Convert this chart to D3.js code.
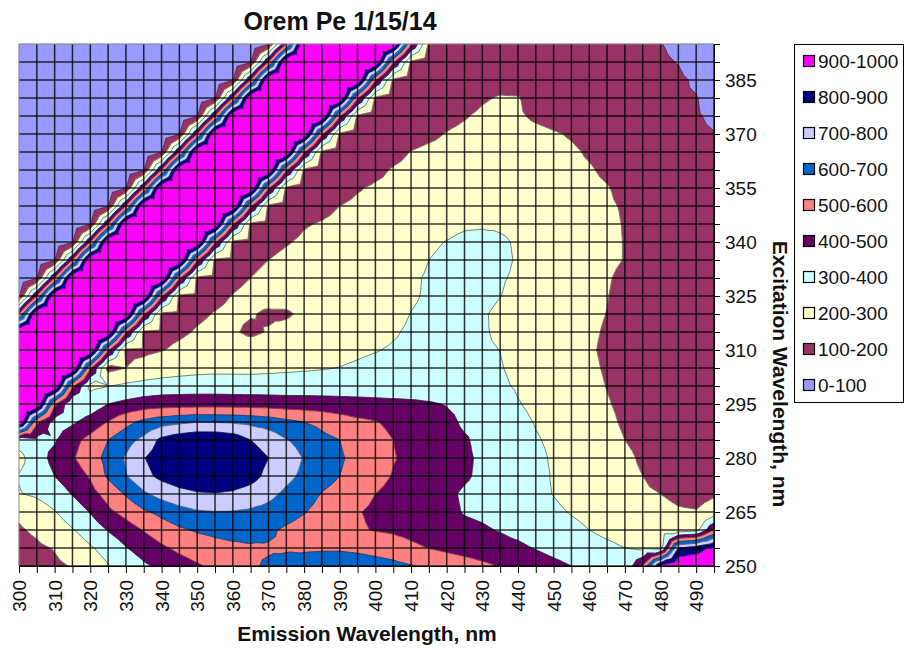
<!DOCTYPE html>
<html>
<head>
<meta charset="utf-8">
<script src="https://cdn.jsdelivr.net/npm/d3@7/dist/d3.min.js"></script>
<style>
html,body{margin:0;padding:0;background:#fff;}
svg{display:block;}
text{font-family:"Liberation Sans",Arial,sans-serif;fill:#111;}
</style>
</head>
<body>
<svg id="chart" width="905" height="650"></svg>
<script>
const chartTitle = "Orem Pe 1/15/14";
const xTitle = "Emission Wavelength, nm";
const yTitle = "Excitation Wavelength, nm";
const emission = [300,305,310,315,320,325,330,335,340,345,350,355,360,365,370,375,380,385,390,395,400,405,410,415,420,425,430,435,440,445,450,455,460,465,470,475,480,485,490,495];
const excitation = [250,255,260,265,270,275,280,285,290,295,300,305,310,315,320,325,330,335,340,345,350,355,360,365,370,375,380,385,390,395];
const xTickLabels = [300,310,320,330,340,350,360,370,380,390,400,410,420,430,440,450,460,470,480,490];
const yTickLabels = [250,265,280,295,310,325,340,355,370,385];
const bandLabels = ["0-100","100-200","200-300","300-400","400-500","500-600","600-700","700-800","800-900","900-1000"];
const bandLimits = [0,100,200,300,400,500,600,700,800,900,1000];
const bandColors = ["#9999ff","#993366","#ffffcc","#ccffff","#660066","#ff8080","#0066cc","#ccccff","#000080","#ff00ff"];

// intensity per excitation row, one value per emission column
const ex250=[130,150,185,205,250,295,340,385,420,460,490,520,555,590,610,630,645,655,655,650,640,625,605,585,565,545,520,495,475,450,425,400,375,345,320,510,920,1000,1000,1000];
const ex255=[165,185,205,240,290,335,395,440,485,520,545,565,580,590,592,590,585,588,588,580,565,550,520,498,478,460,445,430,418,395,370,350,335,318,300,285,270,800,850,930];
const ex260=[190,215,255,295,345,405,455,505,550,585,610,625,635,630,615,585,560,540,525,510,495,485,470,450,435,420,410,395,375,355,340,320,300,280,265,250,235,240,265,500];
const ex265=[215,250,295,345,405,480,530,585,625,665,690,697,695,685,670,640,605,570,535,505,485,465,450,435,420,395,385,370,355,340,315,295,280,265,250,238,225,210,205,240];
const ex270=[295,315,350,405,465,535,610,685,735,770,790,795,785,760,725,680,640,595,565,530,500,475,460,440,415,390,375,355,335,315,298,275,258,242,228,212,200,180,170,190];
const ex275=[305,340,400,450,510,615,695,770,825,855,870,875,865,835,775,725,680,640,600,565,530,495,470,450,430,410,385,365,345,320,295,270,255,235,218,200,175,155,145,150];
const ex280=[270,355,430,490,555,630,710,795,850,880,895,895,880,845,800,745,695,650,610,575,540,505,480,460,440,415,385,365,345,320,290,270,250,235,215,190,165,145,130,125];
const ex285=[340,370,390,470,530,600,665,725,825,865,885,885,860,800,760,705,670,625,600,560,530,500,470,450,435,410,375,355,340,307,285,265,248,225,200,180,155,135,120,115];
const ex290=[1000,520,360,385,440,505,570,625,660,680,697,695,690,675,655,625,600,575,545,520,505,480,460,445,425,385,375,355,325,295,275,255,235,215,190,170,150,130,115,105];
const ex295=[1000,1000,520,310,340,400,425,445,455,458,460,460,458,458,455,450,448,445,440,435,430,425,420,410,395,375,360,345,305,280,260,240,220,205,185,160,145,125,110,105];
const ex300=[1000,1000,1000,520,280,298,318,335,345,348,350,350,348,346,345,345,345,345,345,345,343,342,340,340,335,335,330,315,290,272,255,240,218,198,178,158,138,122,110,105];
const ex305=[1000,1000,1000,1000,520,170,200,225,245,260,270,275,275,275,280,285,290,295,302,315,330,335,335,335,340,335,325,305,280,260,245,230,212,193,175,155,135,120,110,105];
const ex310=[1000,1000,1000,1000,1000,520,190,185,197,212,225,235,240,240,245,250,255,262,270,282,295,310,320,320,325,320,310,299,275,255,240,225,207,190,175,155,135,120,110,105];
const ex315=[1000,1000,1000,1000,1000,1000,520,190,180,190,205,215,210,185,205,225,235,245,250,260,270,290,315,320,325,320,310,285,270,250,235,222,208,195,175,155,135,120,110,105];
const ex320=[500,1000,1000,1000,1000,1000,1000,520,190,175,190,203,212,205,190,190,215,225,235,245,255,270,302,315,320,320,310,280,265,250,235,222,210,199,178,155,135,120,110,105];
const ex325=[95,500,1000,1000,1000,1000,1000,1000,520,190,175,185,202,215,225,230,235,240,245,250,255,270,290,310,330,340,330,302,270,255,240,225,212,202,180,155,135,120,110,105];
const ex330=[25,95,500,1000,1000,1000,1000,1000,1000,520,190,170,185,200,215,225,235,240,245,250,255,265,285,310,335,350,335,310,285,265,250,235,220,206,185,160,140,120,110,105];
const ex335=[25,25,95,500,1000,1000,1000,1000,1000,1000,520,190,175,185,200,215,225,235,240,245,250,255,270,300,330,350,345,325,290,265,250,238,225,212,198,175,150,130,115,105];
const ex340=[25,25,25,95,500,1000,1000,1000,1000,1000,1000,520,190,170,180,195,210,220,230,235,240,245,250,275,305,340,350,320,285,262,248,235,225,212,198,175,150,130,115,105];
const ex345=[25,25,25,25,95,500,1000,1000,1000,1000,1000,1000,520,190,165,175,195,205,215,220,225,230,235,240,250,275,280,280,270,255,245,232,222,212,197,175,150,130,115,105];
const ex350=[25,25,25,25,25,95,500,1000,1000,1000,1000,1000,1000,520,190,155,165,180,200,212,220,225,230,235,240,245,250,250,245,240,235,225,218,207,195,172,150,130,115,105];
const ex355=[25,25,25,25,25,25,95,500,1000,1000,1000,1000,1000,1000,520,190,150,160,175,195,208,215,220,225,230,235,240,240,235,230,225,218,212,203,185,165,145,125,112,105];
const ex360=[25,25,25,25,25,25,25,95,500,1000,1000,1000,1000,1000,1000,520,190,150,155,165,185,205,215,220,225,230,235,235,230,225,220,212,205,190,175,155,140,125,112,105];
const ex365=[25,25,25,25,25,25,25,25,95,500,1000,1000,1000,1000,1000,1000,520,190,150,150,165,180,202,215,220,225,230,230,225,220,215,208,194,180,165,150,135,120,110,103];
const ex370=[25,25,25,25,25,25,25,25,25,95,500,1000,1000,1000,1000,1000,1000,520,190,150,150,160,170,185,203,215,225,225,222,215,205,195,180,170,155,140,130,115,108,102];
const ex375=[25,25,25,25,25,25,25,25,25,25,95,500,1000,1000,1000,1000,1000,1000,520,190,150,155,160,170,180,195,212,225,208,190,180,170,160,150,140,130,120,110,105,90];
const ex380=[25,25,25,25,25,25,25,25,25,25,25,95,500,1000,1000,1000,1000,1000,1000,520,190,150,150,155,160,170,192,206,204,170,165,160,150,140,130,120,110,105,102,75];
const ex385=[25,25,25,25,25,25,25,25,25,25,25,25,95,500,1000,1000,1000,1000,1000,1000,520,190,150,150,150,155,165,170,165,160,155,150,145,135,125,118,112,110,92,60];
const ex390=[25,25,25,25,25,25,25,25,25,25,25,25,25,95,500,1000,1000,1000,1000,1000,1000,520,190,150,150,150,150,148,145,140,135,130,125,120,115,112,108,98,70,50];
const ex395=[25,25,25,25,25,25,25,25,25,25,25,25,25,25,95,500,1000,1000,1000,1000,1000,1000,520,190,150,150,150,148,145,140,135,130,125,120,115,110,102,85,60,40];
const rows=[ex250,ex255,ex260,ex265,ex270,ex275,ex280,ex285,ex290,ex295,ex300,ex305,ex310,ex315,ex320,ex325,ex330,ex335,ex340,ex345,ex350,ex355,ex360,ex365,ex370,ex375,ex380,ex385,ex390,ex395];

const svg = d3.select("#chart");
const x = d3.scaleLinear().domain([300,495]).range([19,714]);
const y = d3.scaleLinear().domain([250,395]).range([566,44]);

// Each grid cell is split into four triangles meeting at the cell mean.
const triangles = [];
for (let j=0;j<excitation.length-1;j++){
  for (let i=0;i<emission.length-1;i++){
    const a={e:emission[i],x:excitation[j],z:rows[j][i]};
    const b={e:emission[i+1],x:excitation[j],z:rows[j][i+1]};
    const c={e:emission[i+1],x:excitation[j+1],z:rows[j+1][i+1]};
    const d={e:emission[i],x:excitation[j+1],z:rows[j+1][i]};
    const m={e:(a.e+b.e)/2,x:(a.x+d.x)/2,z:(a.z+b.z+c.z+d.z)/4};
    triangles.push([a,b,m],[b,c,m],[c,d,m],[d,a,m]);
  }
}
const lerp=(p,q,t)=>{const f=(t-p.z)/(q.z-p.z);return {e:p.e+(q.e-p.e)*f,x:p.x+(q.x-p.x)*f,z:t};};
function clip(poly,t,keepAbove){
  const out=[];
  for(let k=0;k<poly.length;k++){
    const p=poly[k],q=poly[(k+1)%poly.length];
    const pin=keepAbove?p.z>=t:p.z<=t, qin=keepAbove?q.z>=t:q.z<=t;
    if(pin) out.push(p);
    if(pin!==qin) out.push(lerp(p,q,t));
  }
  return out;
}
const plot = svg.append("g");
bandColors.forEach((color,b)=>{
  const path=d3.path();
  triangles.forEach(tr=>{
    let poly=clip(tr,bandLimits[b],true);
    if(poly.length) poly=clip(poly,bandLimits[b+1],false);
    if(poly.length<3) return;
    poly.forEach((p,k)=>{ k?path.lineTo(x(p.e),y(p.x)):path.moveTo(x(p.e),y(p.x)); });
    path.closePath();
  });
  plot.append("path").attr("d",path.toString()).attr("fill",color).attr("stroke",color).attr("stroke-width",0.5).attr("stroke-linejoin","round");
});
// contour lines
const linePath=d3.path();
bandLimits.slice(1,-1).forEach(t=>{
  triangles.forEach(tr=>{
    const pts=[];
    for(let k=0;k<3;k++){
      const p=tr[k],q=tr[(k+1)%3];
      if((p.z<t)!==(q.z<t)) pts.push(lerp(p,q,t));
    }
    if(pts.length===2){
      linePath.moveTo(x(pts[0].e),y(pts[0].x));
      linePath.lineTo(x(pts[1].e),y(pts[1].x));
    }
  });
});
plot.append("path").attr("d",linePath.toString()).attr("fill","none").attr("stroke","#222").attr("stroke-width",0.7).attr("stroke-opacity",0.8);

// grid
const grid=svg.append("g").attr("stroke","#000").attr("stroke-width",1.5).attr("stroke-opacity",0.8);
emission.slice(1).forEach(v=>grid.append("line").attr("x1",x(v)).attr("x2",x(v)).attr("y1",y(250)).attr("y2",y(395)));
excitation.slice(0,-1).forEach(v=>grid.append("line").attr("x1",x(300)).attr("x2",x(495)).attr("y1",y(v)).attr("y2",y(v)));
svg.append("line").attr("x1",x(300)).attr("x2",x(300)).attr("y1",y(250)).attr("y2",y(395)).attr("stroke","#888").attr("stroke-width",1);
svg.append("line").attr("x1",x(300)).attr("x2",x(495)).attr("y1",y(395)).attr("y2",y(395)).attr("stroke","#888").attr("stroke-width",1);

// axes
const xAxis=d3.axisBottom(x).tickValues(emission).tickSize(7).tickPadding(6).tickFormat(v=>xTickLabels.includes(v)?v:"");
const gx=svg.append("g").attr("transform",`translate(0,${y(250)})`).call(xAxis);
gx.select(".domain").attr("stroke","#000");
gx.selectAll("text").attr("transform","rotate(-90)").attr("text-anchor","end").attr("dominant-baseline","central")
  .attr("x",-14).attr("y",0).attr("dy",0).style("font-size","19px");
const yAxis=d3.axisRight(y).tickValues(excitation).tickSize(6).tickPadding(5).tickFormat(v=>yTickLabels.includes(v)?v:"");
const gy=svg.append("g").attr("transform",`translate(${x(495)},0)`).call(yAxis);
gy.select(".domain").attr("stroke","#000");
gy.selectAll("text").style("font-size","19px");

// titles
svg.append("text").attr("x",340).attr("y",30).attr("text-anchor","middle").style("font-size","25px").style("font-weight","bold").text(chartTitle);
svg.append("text").attr("x",367).attr("y",641).attr("text-anchor","middle").style("font-size","21px").style("font-weight","bold").text(xTitle);
svg.append("text").attr("transform","translate(773,374) rotate(90)").attr("text-anchor","middle").style("font-size","21px").style("font-weight","bold").text(yTitle);

// legend
const legend=svg.append("g");
legend.append("rect").attr("x",794.5).attr("y",44.5).attr("width",109).attr("height",358).attr("fill","#fff").attr("stroke","#000").attr("stroke-width",1);
const legendY=d3.scalePoint().domain(bandLabels.slice().reverse()).range([61,385]);
bandLabels.forEach((label,b)=>{
  legend.append("rect").attr("x",803.5).attr("y",legendY(label)-5.5).attr("width",11).attr("height",11).attr("fill",bandColors[b]).attr("stroke","#000").attr("stroke-width",1.2);
  legend.append("text").attr("x",818).attr("y",legendY(label)+7).style("font-size","19px").text(label);
});
</script>
</body>
</html>
